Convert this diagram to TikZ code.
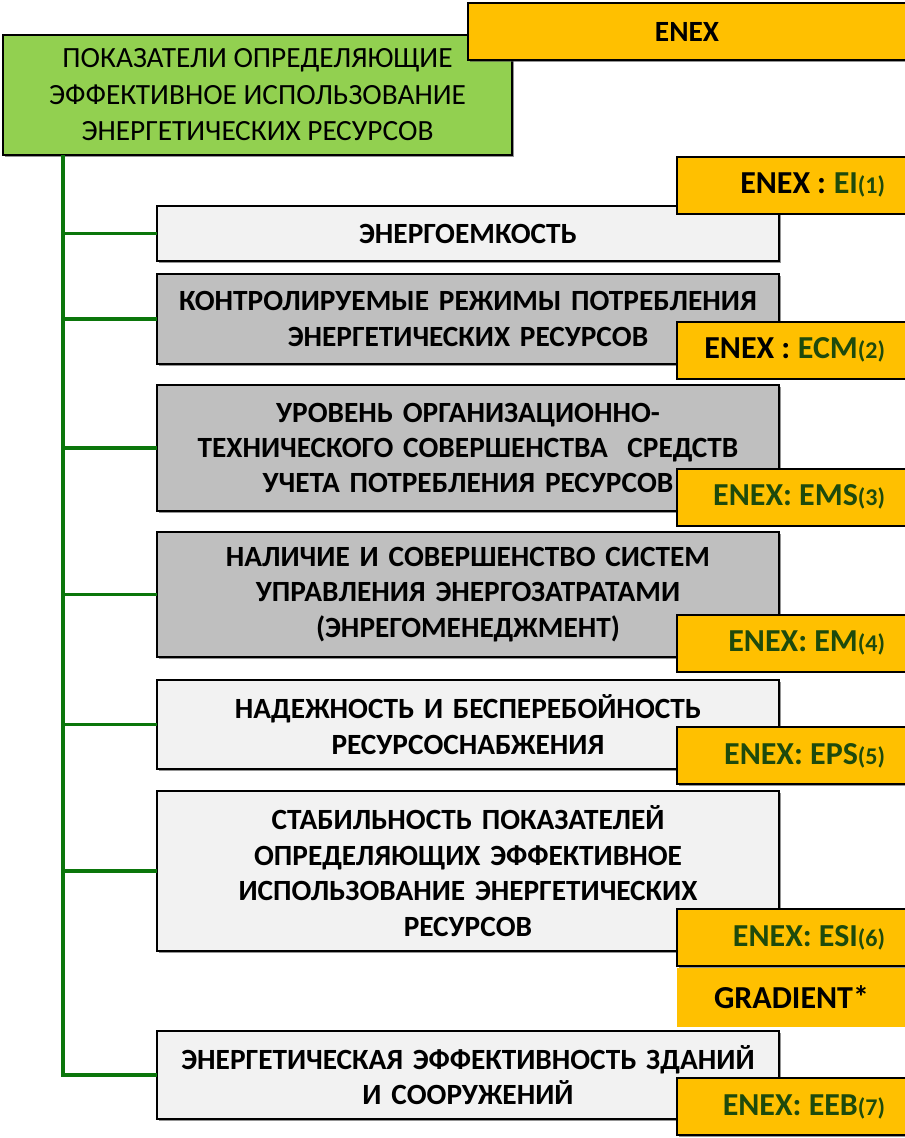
\documentclass[tikz,border=0pt]{standalone}
\usepackage{fontspec}
\setmainfont{Carlito}
\usetikzlibrary{shadows}
\definecolor{titlegreen}{HTML}{92D050}
\definecolor{enexorange}{HTML}{FFC000}
\definecolor{boxgray}{HTML}{BFBFBF}
\definecolor{boxlight}{HTML}{F2F2F2}
\definecolor{linkgreen}{HTML}{0B760B}
\definecolor{codegreen}{HTML}{1E4A0C}
\newcommand{\idx}[1]{{\fontsize{18}{18}\selectfont(#1)}}
\newcommand{\code}[1]{\textcolor{codegreen}{#1}}
% right-aligned label of fixed width inside a code box
\newcommand{\rlabel}[1]{\hbox to 140.25pt{\hss#1}}
\begin{document}
\begin{tikzpicture}[x=0.75pt,y=-0.75pt,
  every node/.style={inner sep=0pt, outer sep=0pt},
  boxshadow/.style={drop shadow={shadow xshift=1.2pt, shadow yshift=-1.2pt, fill=black!70, opacity=0.6}},
  framed/.style={draw=black, line width=1.5pt, boxshadow},
  titlebox/.style={framed, fill=titlegreen, minimum width=381.75pt, minimum height=90pt,
    align=center, font=\fontsize{22}{27.4}\selectfont},
  itembox/.style={framed, minimum width=466.5pt, text width=440pt, align=center,
    font=\bfseries\fontsize{22}{26.6}\selectfont},
  lightbox/.style={itembox, fill=boxlight},
  graybox/.style={itembox, fill=boxgray},
  codefont/.style={font=\bfseries\fontsize{24}{28}\selectfont},
  codebox/.style={framed, fill=enexorange, minimum width=171.75pt, minimum height=42.75pt,
    inner xsep=15.75pt, codefont},
  link/.style={draw=linkgreen, line width=2.4pt}
]
\useasboundingbox (0,0) rectangle (905,1138);
\clip (0,0) rectangle (905,1138);

% header
\node[titlebox] (title) at (257.5,95)
  {ПОКАЗАТЕЛИ ОПРЕДЕЛЯЮЩИЕ\\ЭФФЕКТИВНОЕ ИСПОЛЬЗОВАНИЕ\\ЭНЕРГЕТИЧЕСКИХ РЕСУРСОВ};
\node[framed, fill=enexorange, minimum width=328.5pt, minimum height=42.75pt,
  font=\bfseries\fontsize{22}{26}\selectfont] (enex) at (687,31.5) {ENEX};

% indicator boxes
\node[lightbox, minimum height=41.25pt] (b1) at (468,233.5) {ЭНЕРГОЕМКОСТЬ};
\node[graybox, minimum height=67.5pt] (b2) at (468,319)
  {КОНТРОЛИРУЕМЫЕ РЕЖИМЫ ПОТРЕБЛЕНИЯ\\ЭНЕРГЕТИЧЕСКИХ РЕСУРСОВ};
\node[graybox, minimum height=94.5pt] (b3) at (468,448)
  {УРОВЕНЬ ОРГАНИЗАЦИОННО-\\ТЕХНИЧЕСКОГО СОВЕРШЕНСТВА\ \ СРЕДСТВ\\УЧЕТА ПОТРЕБЛЕНИЯ РЕСУРСОВ};
\node[graybox, minimum height=93.75pt] (b4) at (468,594.5)
  {НАЛИЧИЕ И СОВЕРШЕНСТВО СИСТЕМ\\УПРАВЛЕНИЯ ЭНЕРГОЗАТРАТАМИ\\(ЭНРЕГОМЕНЕДЖМЕНТ)};
\node[lightbox, minimum height=66.75pt] (b5) at (468,724.5)
  {НАДЕЖНОСТЬ И БЕСПЕРЕБОЙНОСТЬ\\РЕСУРСОСНАБЖЕНИЯ};
\node[lightbox, minimum height=120pt] (b6) at (468,871)
  {СТАБИЛЬНОСТЬ ПОКАЗАТЕЛЕЙ\\ОПРЕДЕЛЯЮЩИХ ЭФФЕКТИВНОЕ\\ИСПОЛЬЗОВАНИЕ ЭНЕРГЕТИЧЕСКИХ\\РЕСУРСОВ};
\node[lightbox, minimum height=66pt] (b7) at (468,1075)
  {ЭНЕРГЕТИЧЕСКАЯ ЭФФЕКТИВНОСТЬ ЗДАНИЙ\\И СООРУЖЕНИЙ};

% ENEX codes
\node[codebox] (c1) at (791.5,185)
  {\rlabel{ENEX\hspace{0.22em}:\hspace{0.24em}\code{EI\idx{1}}}};
\node[codebox] (c2) at (791.5,350)
  {\rlabel{ENEX\hspace{0.22em}:\hspace{0.24em}\code{ECM\idx{2}}}};
\node[codebox] (c3) at (791.5,497) {\rlabel{\code{ENEX: EMS\idx{3}}}};
\node[codebox] (c4) at (791.5,643) {\rlabel{\code{ENEX: EM\idx{4}}}};
\node[codebox] (c5) at (791.5,755.5) {\rlabel{\code{ENEX: EPS\idx{5}}}};
\node[codebox] (c6) at (791.5,937.5) {\rlabel{\code{ENEX: ESI\idx{6}}}};
\node[fill=enexorange, minimum width=171.75pt, minimum height=44.25pt, codefont]
  (grad) at (791.5,997.5) {GRADIENT*};
\node[codebox] (c7) at (791.5,1106.5) {\rlabel{\code{ENEX: EEB\idx{7}}}};

% tree connectors
\coordinate (trunk) at ([xshift=45pt]title.south west);
\draw[link] (trunk) |- (b7.west);
\foreach \b in {b1,b2,b3,b4,b5,b6}
  \draw[link] (\b.west -| trunk) -- (\b.west);
\end{tikzpicture}
\end{document}
